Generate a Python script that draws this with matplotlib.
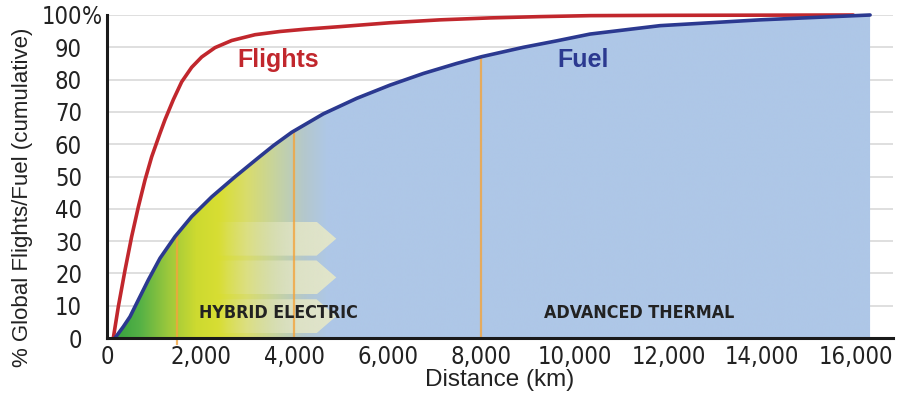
import numpy as np
import matplotlib
matplotlib.use("Agg")
import matplotlib.pyplot as plt
from matplotlib import font_manager as fm
from matplotlib.patches import Polygon
from matplotlib.colors import to_rgb

plt.rcParams["font.family"] = ["Liberation Sans", "DejaVu Sans"]


def narrow_font(bold=False):
    # look for any installed condensed / narrow face
    want = 700 if bold else 400
    best = None
    for f in fm.fontManager.ttflist:
        st = str(f.stretch).lower()
        if "narrow" in f.name.lower() or "condensed" in f.name.lower() or "condensed" in st:
            if f.style != "normal":
                continue
            w = f.weight if isinstance(f.weight, int) else (700 if "bold" in str(f.weight) else 400)
            score = abs(w - want)
            if best is None or score < best[0]:
                best = (score, f.fname)
    if best is None:
        return fm.FontProperties(family="Liberation Sans", weight="bold" if bold else "normal")
    return fm.FontProperties(fname=best[1])


NARROW = narrow_font()
NARROW_B = narrow_font(bold=True)

# cumulative share of flights / fuel by stage length
flights_km = [135, 242, 385, 527, 670, 812, 955, 1133, 1240, 1418, 1596, 1810,
              2024, 2309, 2665, 3164, 3700, 4233, 4981, 6050, 7118, 8187, 9256,
              10325, 12000, 15950]
flights_pct = [0, 9.7, 21, 31.4, 40.6, 48.9, 56.1, 63.4, 67.6, 73.8, 79.3, 83.8,
               87.0, 89.9, 92.1, 93.9, 94.9, 95.6, 96.4, 97.6, 98.5, 99.1, 99.5,
               99.8, 99.9, 100]

fuel_km = [171, 349, 492, 670, 884, 1133, 1454, 1810, 2238, 2736, 3234, 3560,
           3950, 4624, 5338, 6050, 6762, 7475, 8010, 8900, 9613, 10325, 11820,
           13960, 16310]
fuel_pct = [0, 3.5, 6.6, 11.8, 18, 24.7, 31.4, 37.6, 43.7, 49.9, 55.8, 59.6,
            63.7, 69.4, 74.2, 78.3, 81.9, 85, 87.1, 90, 92, 94.1, 96.7,
            98.5, 100]

marker_km = [1500, 4000, 8000]
xticks = [0, 2000, 4000, 6000, 8000, 10000, 12000, 14000, 16000]
yticks = [0, 10, 20, 30, 40, 50, 60, 70, 80, 90, 100]
arrow_bands = [(1.5, 12.0), (13.5, 24.0), (25.5, 36.0)]

RED = "#c1272d"
NAVY = "#2b3990"
BLUE = "#aec7e7"
INK = "#222222"

fig = plt.figure(figsize=(8.97, 3.94), dpi=100)
ax = fig.add_axes([107 / 897, 56 / 394, 786 / 897, 323 / 394])
ax.set_xlim(0, 16800)
ax.set_ylim(0, 100)

# area under the fuel curve, green -> yellow -> blue
xend = fuel_km[-1]
verts = [(fuel_km[0], 0)] + list(zip(fuel_km, fuel_pct)) + [(xend, 0)]
area = Polygon(verts, closed=True, transform=ax.transData, facecolor="none", edgecolor="none")
ax.add_patch(area)

stops_x = [0, 700, 1300, 1900, 2400, 3000, 3600, 4200, 4700, 16800]
stops_c = ["#2c9c3e", "#55b146", "#9cc83c", "#cdda30", "#d8de33", "#d8dc6e",
           "#c6d3a0", "#b4c8cc", BLUE, BLUE]
gx = np.linspace(0, xend, 800)
rgb = np.array([to_rgb(c) for c in stops_c])
grad = np.stack([np.interp(gx, stops_x, rgb[:, i]) for i in range(3)], axis=-1)
img = ax.imshow(grad[np.newaxis, :, :], extent=[0, xend, 0, 100], aspect="auto",
                origin="lower", zorder=1, interpolation="bilinear")
img.set_clip_path(area)

# pale arrows pointing right
for yb, yt in arrow_bands:
    ym = (yb + yt) / 2
    arrow = Polygon([(2300, yb), (4480, yb), (4900, ym), (4480, yt), (2300, yt)],
                    closed=True, transform=ax.transData, facecolor="none", edgecolor="none")
    ax.add_patch(arrow)
    ax_x = np.linspace(2300, 4900, 300)
    rgba = np.zeros((1, 300, 4))
    rgba[..., :3] = to_rgb("#e8e9c6")
    rgba[0, :, 3] = np.interp(ax_x, [2300, 3400, 4100, 4900], [0, 0.4, 0.8, 0.9])
    aimg = ax.imshow(rgba, extent=[2300, 4900, yb, yt], aspect="auto", origin="lower",
                     zorder=2, interpolation="bilinear")
    aimg.set_clip_path(arrow)

# orange markers up to the fuel curve
for k in marker_km:
    top = np.interp(k, fuel_km, fuel_pct)
    lo = -2 if k == 1500 else 0
    ax.plot([k, k], [lo, top], color="#f3a43c", lw=1.6, alpha=0.8, zorder=3, clip_on=False)

ax.plot(flights_km, flights_pct, color=RED, lw=2.6, zorder=5, clip_on=False,
        solid_capstyle="round", solid_joinstyle="round")
ax.plot(fuel_km, fuel_pct, color=NAVY, lw=2.6, zorder=6, clip_on=False,
        solid_capstyle="round", solid_joinstyle="round")

ax.text(3650, 86, "Flights", color=RED, fontsize=18, fontweight="bold",
        ha="center", va="center", zorder=7)
ax.text(10170, 86, "Fuel", color=NAVY, fontsize=18, fontweight="bold",
        ha="center", va="center", zorder=7)
for x, s in [(3660, "HYBRID ELECTRIC"), (11370, "ADVANCED THERMAL")]:
    ax.text(x, 7.8, s, fontproperties=NARROW_B, fontsize=12.8, color=INK,
            ha="center", va="center", zorder=7)

# grid and axes
ax.set_yticks(yticks)
ax.set_yticklabels([str(v) for v in yticks])
ax.set_xticks(xticks)
ax.set_xticklabels(["{:,}".format(v) for v in xticks])
ax.yaxis.grid(True, color="#d9d9d9", lw=1.2, zorder=0)
ax.set_axisbelow(True)
ax.tick_params(length=0, colors=INK)
ax.tick_params(axis="y", pad=18)
ax.tick_params(axis="x", pad=5)
for lab in ax.get_xticklabels() + ax.get_yticklabels():
    lab.set_fontproperties(NARROW)
    lab.set_fontsize(17)
ax.text(-25 / 786, 100, "%", transform=ax.get_yaxis_transform(), fontproperties=NARROW,
        fontsize=17, color=INK, ha="left", va="center_baseline")

for s in ["top", "right"]:
    ax.spines[s].set_visible(False)
for s in ["left", "bottom"]:
    ax.spines[s].set_linewidth(2.2)
    ax.spines[s].set_color("#1a1a1a")
    ax.spines[s].set_zorder(8)

ax.set_xlabel("Distance (km)", fontsize=17.5, color=INK, labelpad=0)
ax.set_ylabel("% Global Flights/Fuel (cumulative)", fontsize=16, color=INK)
ax.yaxis.set_label_coords(-74 / 786, 0.437)

fig.savefig("out.png", dpi=100)
